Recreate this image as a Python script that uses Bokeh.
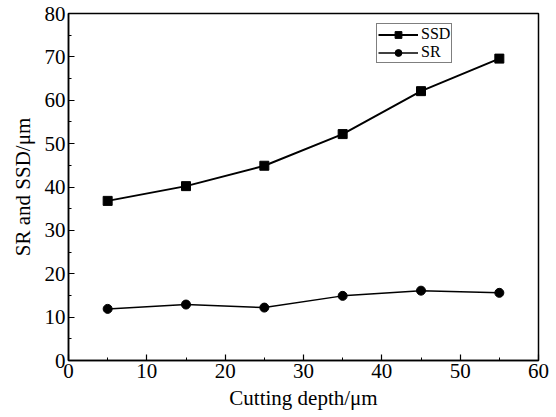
from bokeh.plotting import figure
from bokeh.models import FixedTicker, Legend, LegendItem, Range1d
from bokeh.embed import file_html
from bokeh.resources import INLINE

depth = [5, 15, 25, 35, 45, 55]
ssd = [36.8, 40.2, 44.9, 52.2, 62.1, 69.6]
sr = [11.9, 12.9, 12.2, 14.9, 16.1, 15.6]
x_ticks = [0, 10, 20, 30, 40, 50, 60]
x_minor = [5, 15, 25, 35, 45, 55]
y_ticks = [0, 10, 20, 30, 40, 50, 60, 70, 80]
y_minor = [5, 15, 25, 35, 45, 55, 65, 75]

FONT = "Liberation Serif"

p = figure(width=550, height=416, output_backend="svg", toolbar_location=None,
           x_range=Range1d(0, 60), y_range=Range1d(0, 80),
           min_border_left=68, min_border_right=12, min_border_top=13, min_border_bottom=56)
p.grid.visible = False
p.outline_line_color = "black"
p.outline_line_width = 1.5
p.outline_line_alpha = 1

r1a = p.line(depth, ssd, line_color="black", line_width=2)
r1b = p.scatter(depth, ssd, marker="square", size=9, fill_color="black", line_color="black")
r2a = p.line(depth, sr, line_color="black", line_width=1.5)
r2b = p.scatter(depth, sr, marker="circle", size=9, fill_color="black", line_color="black")

for ax, ticks, minor in ((p.xaxis[0], x_ticks, x_minor), (p.yaxis[0], y_ticks, y_minor)):
    ax.ticker = FixedTicker(ticks=ticks, minor_ticks=minor)
    ax.major_tick_in = 6
    ax.major_tick_out = 0
    ax.minor_tick_in = 3
    ax.minor_tick_out = 0
    ax.axis_line_width = 1.5
    ax.axis_line_color = "black"
    ax.major_tick_line_width = 1.2
    ax.major_label_text_font = FONT
    ax.major_label_text_font_size = "21px"
    ax.major_label_text_color = "black"
    ax.axis_label_text_font = FONT
    ax.axis_label_text_font_size = "21px"
    ax.axis_label_text_font_style = "normal"
    ax.axis_label_text_color = "black"

p.xaxis.axis_label = "Cutting depth/μm"
p.yaxis.axis_label = "SR and SSD/μm"
p.xaxis.major_label_standoff = 3
p.yaxis.major_label_standoff = 3
p.xaxis.axis_label_standoff = 5
p.yaxis.axis_label_standoff = 7

legend = Legend(items=[LegendItem(label="SSD", renderers=[r1a, r1b]),
                       LegendItem(label="SR", renderers=[r2a, r2b])],
                location=(308, 297))
legend.label_text_font = FONT
legend.label_text_font_size = "16px"
legend.label_text_color = "black"
legend.glyph_width = 40
legend.glyph_height = 17
legend.label_height = 17
legend.label_standoff = 3
legend.spacing = 0
legend.padding = 1
legend.margin = 0
legend.border_line_color = "black"
legend.border_line_width = 1.2
legend.background_fill_alpha = 1
p.add_layout(legend)

open("out.html", "w").write(file_html(p, INLINE))
